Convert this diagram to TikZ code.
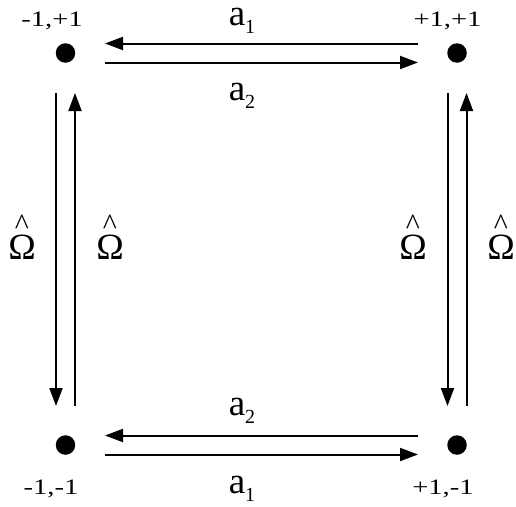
\documentclass[tikz,border=0pt]{standalone}
\usepackage{fontspec}
\setmainfont{Liberation Serif}
\usetikzlibrary{arrows.meta}

\newcommand\asub[2]{#1\raisebox{-8pt}{\fontsize{20}{20}\selectfont #2}}
\newcommand\omhat{\ooalign{Ω\cr\hidewidth\raisebox{25pt}{\fontsize{30}{30}\selectfont\textasciicircum}\hidewidth\cr}}

\tikzset{
  site/.style={circle, fill, inner sep=0pt, minimum size=19.5pt},
  hop/.style={-{Triangle[length=18pt,width=13pt]}, line width=2pt},
  corner/.style={anchor=base, inner sep=0pt, font=\fontsize{22}{22}\selectfont\addfontfeature{FakeStretch=1.3}},
  lab/.style={anchor=base, inner sep=0pt, font=\fontsize{37}{37}\selectfont},
}

\begin{document}
\begin{tikzpicture}[x=1pt,y=-1pt]
    \useasboundingbox (0,0) rectangle (516,506);
    % the four states
    \node[site] (tl) at (65.5,53) {};
    \node[site] (tr) at (457,53) {};
    \node[site] (bl) at (65.5,445) {};
    \node[site] (br) at (457,445) {};
    \foreach \x/\y/\t in {52/26/{-1,+1}, 447.5/26/{+1,+1}, 51/494/{-1,-1}, 443/494/{+1,-1}}{%
      \node[corner] at (\x,\y){\t};}
    % horizontal hops
    \draw[hop]([shift={(-39,-9.5)}]tr.center)--([shift={(39.5,-9.5)}]tl.center);
    \draw[hop]([shift={(39.5,9.5)}]tl.center)--([shift={(-39,9.5)}]tr.center);
    \draw[hop]([shift={(-39,-9.5)}]br.center)--([shift={(39.5,-9.5)}]bl.center);
    \draw[hop]([shift={(39.5,9.5)}]bl.center)--([shift={(-39,9.5)}]br.center);
    \node[lab] at (242,25){\asub{a}{1}};
    \node[lab] at (242,100){\asub{a}{2}};
    \node[lab] at (242,415){\asub{a}{2}};
    \node[lab] at (242,493){\asub{a}{1}};
    % vertical hops
    \draw[hop]([shift={(-9.5,40)}]tl.center)--([shift={(-9.5,-39)}]bl.center);
    \draw[hop]([shift={(9.5,-39)}]bl.center)--([shift={(9.5,40)}]tl.center);
    \draw[hop]([shift={(-9.5,40)}]tr.center)--([shift={(-9.5,-39)}]br.center);
    \draw[hop]([shift={(9.5,-39)}]br.center)--([shift={(9.5,40)}]tr.center);
    \foreach \x in {22,110,413,501}{%
      \node[lab] at (\x,259){\omhat};}
\end{tikzpicture}
\end{document}
